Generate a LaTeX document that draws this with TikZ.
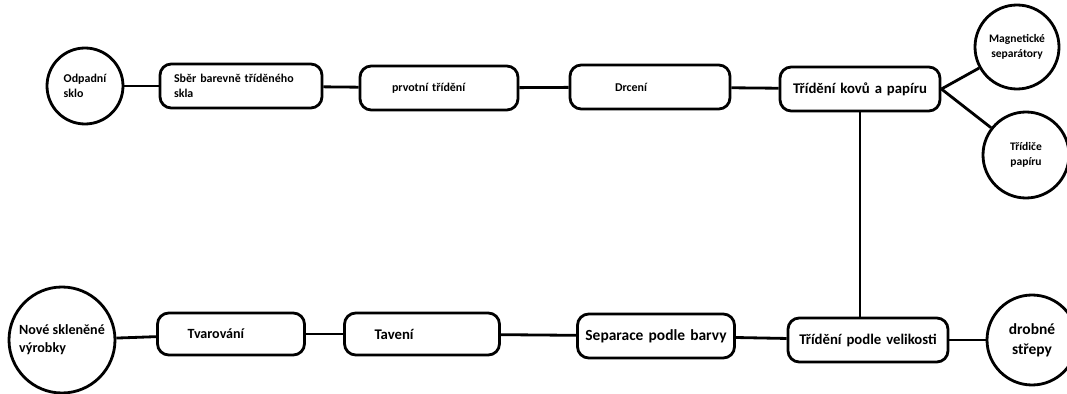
\documentclass[tikz,border=0pt]{standalone}
\usepackage{fontspec}
\setmainfont{Carlito}
\usetikzlibrary{positioning}

\begin{document}
\begin{tikzpicture}[
  box/.style={draw,line width=2pt,rounded corners=8pt,minimum height=1.1cm,
              font=\bfseries\fontsize{8.5}{10.5}\selectfont},
  bigbox/.style={box,font=\bfseries\fontsize{10.5}{12.5}\selectfont,align=center,
              inner xsep=0.175cm,text width=3.65cm},
  kruh/.style={draw,circle,line width=2pt,inner sep=0pt,
               font=\bfseries\fontsize{8.5}{11}\selectfont},
  spoj/.style={line width=2pt}
]
\clip (0,0) rectangle (26.675,-9.85);
\useasboundingbox (0,0) rectangle (26.675,-9.85);
% horni rada
\node[kruh,minimum size=1.9cm,align=left] (odpad) at (2.125,-2.15) {Odpadní\\sklo};
\node[box,align=left,inner xsep=0.35cm,text width=3.35cm] (sber) at (6.025,-2.15)
  {Sběr barevně tříděného\\skla};
\node[box,align=left,inner xsep=0.8cm,text width=2.35cm] (prvotni) at (10.975,-2.2) {prvotní třídění};
\node[box,align=left,inner xsep=1.125cm,text width=1.75cm] (drceni) at (16.25,-2.175) {Drcení};
\node[bigbox] (kovy) at (21.5,-2.225) {Třídění kovů a papíru};
\node[kruh,minimum size=2.1cm,align=center,font=\bfseries\fontsize{8.2}{10.5}\selectfont]
  (magnet) at (25.425,-1.175) {Magnetické\\separátory};
\node[kruh,minimum size=2.15cm,align=center,font=\bfseries\fontsize{8.2}{10.5}\selectfont]
  (tridice) at (25.65,-3.875) {Třídiče\\papíru};
% dolni rada
\node[kruh,minimum size=2.65cm,align=left,font=\bfseries\fontsize{10}{13}\selectfont]
  (nove) at (1.55,-8.5) {Nové skleněné\\výrobky};
\node[box,align=left,inner xsep=0.75cm,text width=2.175cm,minimum height=1.05cm,
  font=\bfseries\fontsize{10}{12}\selectfont] (tvar) at (5.775,-8.35) {Tvarování};
\node[box,align=left,inner xsep=0.75cm,text width=2.375cm,minimum height=1.05cm,
  font=\bfseries\fontsize{10.5}{12}\selectfont] (taveni) at (10.55,-8.35) {Tavení};
\node[bigbox,inner xsep=0.125cm,text width=3.675cm,font=\bfseries\fontsize{11}{13}\selectfont]
  (separace) at (16.4,-8.4) {Separace podle barvy};
\node[bigbox] (velik) at (21.7,-8.5) {Třídění podle velikosti};
\node[kruh,minimum size=2.25cm,align=center,font=\bfseries\fontsize{11}{14}\selectfont]
  (drobne) at (25.8,-8.5) {drobné\\střepy};
% spoje
\draw[spoj] (odpad) -- (sber);
\draw[spoj] (sber) -- (prvotni);
\draw[spoj] (prvotni) -- (drceni);
\draw[spoj] (drceni) -- (kovy);
\draw[spoj] (kovy.east) -- (magnet);
\draw[spoj] (kovy.east) -- (tridice);
\draw[spoj] (kovy.south) -- (kovy.south |- velik.north);
\draw[spoj] (velik) -- (drobne);
\draw[spoj] (separace) -- (velik);
\draw[spoj] (taveni) -- (separace);
\draw[spoj] (tvar) -- (taveni);
\draw[spoj] (nove) -- (tvar);
\end{tikzpicture}
\end{document}
